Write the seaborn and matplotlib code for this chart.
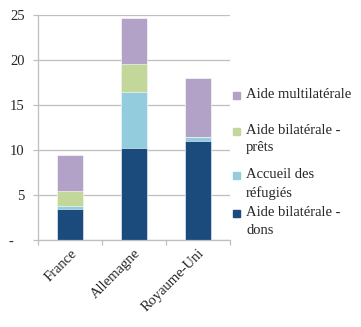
import matplotlib
matplotlib.use("Agg")
import matplotlib.pyplot as plt
import matplotlib.patches as mpatches
import numpy as np
import pandas as pd
import seaborn as sns

# Aid by country (billions), stacked by component
countries = ["France", "Allemagne", "Royaume-Uni"]
series_names = ["Aide bilatérale - dons", "Accueil des réfugiés",
                "Aide bilatérale - prêts", "Aide multilatérale"]
legend_labels = ["Aide bilatérale -\ndons", "Accueil des\nréfugiés",
                 "Aide bilatérale -\nprêts", "Aide multilatérale"]
dons = [3.4, 10.25, 11.0]
refugies = [0.4, 6.25, 0.5]
prets = [1.7, 3.1, 0.0]
multilaterale = [3.95, 5.1, 6.55]
colors = ["#1B4A7C", "#93CDDD", "#C4D79B", "#B3A2C7"]
y_ticks = [0, 5, 10, 15, 20, 25]
y_tick_labels = ["-   ", "5", "10", "15", "20", "25"]

sns.set_theme(style="white")
plt.rcParams["font.family"] = ["Liberation Serif", "DejaVu Serif"]

df = pd.DataFrame({"pays": countries, series_names[0]: dons,
                   series_names[1]: refugies, series_names[2]: prets,
                   series_names[3]: multilaterale})
cum = df[series_names].cumsum(axis=1)

fig = plt.figure(figsize=(3.61, 3.27), dpi=100)
ax = fig.add_axes([38 / 361, 1 - 240 / 327, 192 / 361, 225 / 327])

# Stacked bars: draw cumulative totals from the top layer down
for name, color in reversed(list(zip(series_names, colors))):
    sns.barplot(x=df["pays"], y=cum[name], color=color, width=0.4,
                saturation=1, edgecolor="white", linewidth=0.4, ax=ax)

grid_c = "#BFBFBF"
ax.set_ylim(0, 25)
ax.set_xlim(-0.5, 2.5)
ax.set_yticks(y_ticks)
ax.set_yticklabels(y_tick_labels, fontsize=10.5)
ax.yaxis.grid(True, color=grid_c, linewidth=0.9)
ax.set_axisbelow(True)
ax.tick_params(axis="y", length=3.6, width=0.9, color=grid_c, pad=6, left=True)
ax.set_xticks([0, 1, 2])
ax.set_xticklabels(countries, rotation=45, ha="right", rotation_mode="anchor",
                   fontsize=10.5)
ax.set_xticks([-0.5, 0.5, 1.5, 2.5], minor=True)
ax.tick_params(axis="x", which="major", length=0, pad=5)
ax.tick_params(axis="x", which="minor", length=3.6, width=0.9, color=grid_c,
               bottom=True)
ax.set_xlabel("")
ax.set_ylabel("")
for s in ["top", "right"]:
    ax.spines[s].set_visible(False)
for s in ["left", "bottom"]:
    ax.spines[s].set_color(grid_c)
    ax.spines[s].set_linewidth(0.9)

# Legend, top entry first
legend_y = [95, 131, 175, 213]
for lab, color, y in zip(reversed(legend_labels), reversed(colors), legend_y):
    fig.patches.append(mpatches.Rectangle((233 / 361, 1 - (y + 4) / 327),
                                          7 / 361, 7 / 327, color=color,
                                          transform=fig.transFigure))
    fig.text(246 / 361, 1 - (y - 7) / 327, lab, fontsize=10.5, va="top",
             ha="left", linespacing=1.45)

fig.savefig("out.png", dpi=100)
